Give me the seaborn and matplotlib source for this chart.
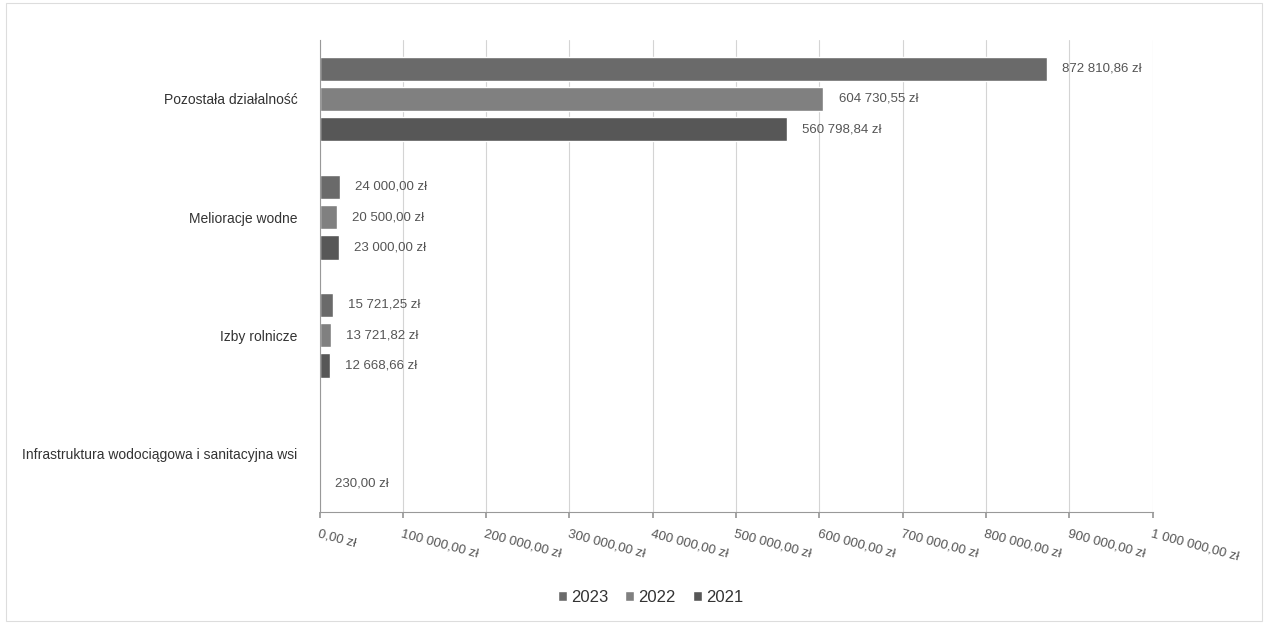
import numpy as np
import pandas as pd
import matplotlib
matplotlib.use("Agg")
import matplotlib.pyplot as plt
from matplotlib.patches import Rectangle
import seaborn as sns

# Data
categories = ["Pozostała działalność", "Melioracje wodne", "Izby rolnicze",
              "Infrastruktura wodociągowa i sanitacyjna wsi"]
years = ["2023", "2022", "2021"]
vals_2023 = [872810.86, 24000.00, 15721.25, np.nan]
vals_2022 = [604730.55, 20500.00, 13721.82, np.nan]
vals_2021 = [560798.84, 23000.00, 12668.66, 230.00]
x_ticks = [0, 100000, 200000, 300000, 400000, 500000,
           600000, 700000, 800000, 900000, 1000000]

COLORS = ["#6a6a6a", "#808080", "#575757"]


def pln(v):
    s = f"{v:,.2f}".replace(",", " ").replace(".", ",")
    return f"{s} zł"


rows = []
for year, vals in zip(years, [vals_2023, vals_2022, vals_2021]):
    for cat, v in zip(categories, vals):
        if not np.isnan(v):
            rows.append({"Kategoria": cat, "Rok": year, "Kwota": v})
df = pd.DataFrame(rows)

sns.set_theme(style="white")
plt.rcParams["font.family"] = ["Liberation Sans", "DejaVu Sans"]

fig = plt.figure(figsize=(12.68, 6.24), dpi=100)
ax = fig.add_axes([0.252, 0.179, 0.657, 0.757])

sns.barplot(data=df, y="Kategoria", x="Kwota", hue="Rok",
            order=categories, hue_order=years, palette=COLORS,
            orient="h", width=0.77, gap=0.2, dodge=True,
            errorbar=None, legend=True, ax=ax)

for cont in ax.containers:
    ax.bar_label(cont, labels=[pln(v) for v in cont.datavalues],
                 padding=11, fontsize=9.5, color="#555555")

ax.set_xlim(0, 1000000)
ax.set_xticks(x_ticks)
ax.set_xticklabels([pln(t) for t in x_ticks], rotation=-15, ha="left",
                   rotation_mode="anchor", fontsize=9.5, color="#555555")
ax.tick_params(axis="x", bottom=True, length=4, color="#999999", pad=7)
ax.tick_params(axis="y", left=False, labelsize=10, labelcolor="#333333", pad=10)
ax.set_xlabel("")
ax.set_ylabel("")
ax.grid(axis="x", color="#d4d4d4", lw=0.8)
ax.set_axisbelow(True)
for side in ["top", "right"]:
    ax.spines[side].set_visible(False)
for side in ["left", "bottom"]:
    ax.spines[side].set_color("#999999")
    ax.spines[side].set_linewidth(0.8)

ax.legend(loc="upper center", bbox_to_anchor=(0.513, 0.078),
          bbox_transform=fig.transFigure, ncol=3, frameon=False,
          fontsize=12, handlelength=0.55, handleheight=0.55,
          handletextpad=0.25, columnspacing=1.0, labelcolor="#333333")

fig.add_artist(Rectangle((0.005, 0.005), 0.99, 0.99, transform=fig.transFigure,
                         fill=False, edgecolor="#dddddd", lw=0.8))

plt.savefig("out.png", dpi=100)
plt.close()
